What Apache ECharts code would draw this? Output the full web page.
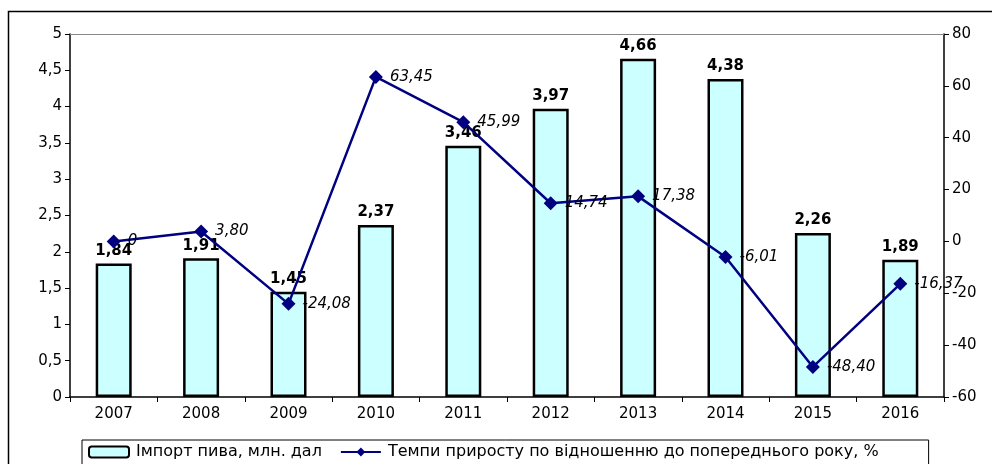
<!DOCTYPE html>
<html><head><meta charset="utf-8">
<script src="https://cdn.jsdelivr.net/npm/echarts@6/dist/echarts.min.js"></script>
<style>html,body{margin:0;padding:0;background:#fff}#c{width:992px;height:464px}</style>
</head><body><div id="c"></div>
<script>
const years = ['2007','2008','2009','2010','2011','2012','2013','2014','2015','2016'];
const importBeer = [1.84,1.91,1.45,2.37,3.46,3.97,4.66,4.38,2.26,1.89];
const growthRate = [0,3.80,-24.08,63.45,45.99,14.74,17.38,-6.01,-48.40,-16.37];
const leftTicks = {min:0,max:5,interval:0.5};
const rightTicks = {min:-60,max:80,interval:20};
const fmt = v => String(v).replace('.', ',');
const chart = echarts.init(document.getElementById('c'));
const font = 'DejaVu Sans, Verdana, sans-serif';
chart.setOption({
  animation:false,
  textStyle:{fontFamily:font},
  graphic:[{type:'rect',shape:{x:8.5,y:11.5,width:1000,height:470},style:{fill:null,stroke:'#000',lineWidth:1.5},silent:true}],
  grid:{left:70,right:48,top:34,bottom:67},
  legend:{
    left:82,top:440,itemGap:18,padding:[4,50,8,6],
    borderColor:'#000',borderWidth:1,borderRadius:0,
    itemWidth:40,itemHeight:11,
    textStyle:{fontSize:16,color:'#000',fontFamily:font,padding:[0,0,0,2]},
    data:[{name:'Імпорт пива, млн. дал'},{name:'Темпи приросту по відношенню до попереднього року, %'}]
  },
  xAxis:{type:'category',data:years,
    axisLine:{lineStyle:{color:'#000',width:1.5}},
    axisTick:{show:true,length:5,lineStyle:{color:'#000'}},
    axisLabel:{color:'#000',fontSize:15,margin:10,fontFamily:font}},
  yAxis:[
    {type:'value',min:leftTicks.min,max:leftTicks.max,interval:leftTicks.interval,
     axisLine:{show:true,lineStyle:{color:'#000',width:1.5}},
     axisTick:{show:true,length:5,lineStyle:{color:'#000'}},
     axisLabel:{color:'#000',fontSize:15,margin:8,formatter:v=>fmt(v),fontFamily:font},
     splitLine:{show:false}},
    {type:'value',min:rightTicks.min,max:rightTicks.max,interval:rightTicks.interval,
     axisLine:{show:true,lineStyle:{color:'#000',width:1.5}},
     axisTick:{show:true,length:5,lineStyle:{color:'#000'}},
     axisLabel:{color:'#000',fontSize:15,margin:8,fontFamily:font},
     splitLine:{show:false}}
  ],
  series:[
    {name:'Імпорт пива, млн. дал',type:'bar',data:importBeer,barWidth:36,yAxisIndex:0,
     itemStyle:{color:'#CCFFFF',borderColor:'#000',borderWidth:2.5},
     label:{show:true,position:'top',distance:5,fontWeight:'bold',fontSize:15,color:'#000',fontFamily:font,
       formatter:p=>p.value.toFixed(2).replace('.',',')},
     markLine:{silent:true,symbol:'none',label:{show:false},lineStyle:{color:'#888',type:'solid',width:1},data:[{yAxis:5}]}},
    {name:'Темпи приросту по відношенню до попереднього року, %',type:'line',data:growthRate,yAxisIndex:1,
     symbol:'diamond',symbolSize:14,
     lineStyle:{color:'#000080',width:2.5},itemStyle:{color:'#000080'},
     label:{show:true,position:'right',distance:7,fontStyle:'italic',fontSize:15,color:'#000',fontFamily:font,
       formatter:p=>p.value===0?'0':p.value.toFixed(2).replace('.',',')}}
  ]
});
</script></body></html>
